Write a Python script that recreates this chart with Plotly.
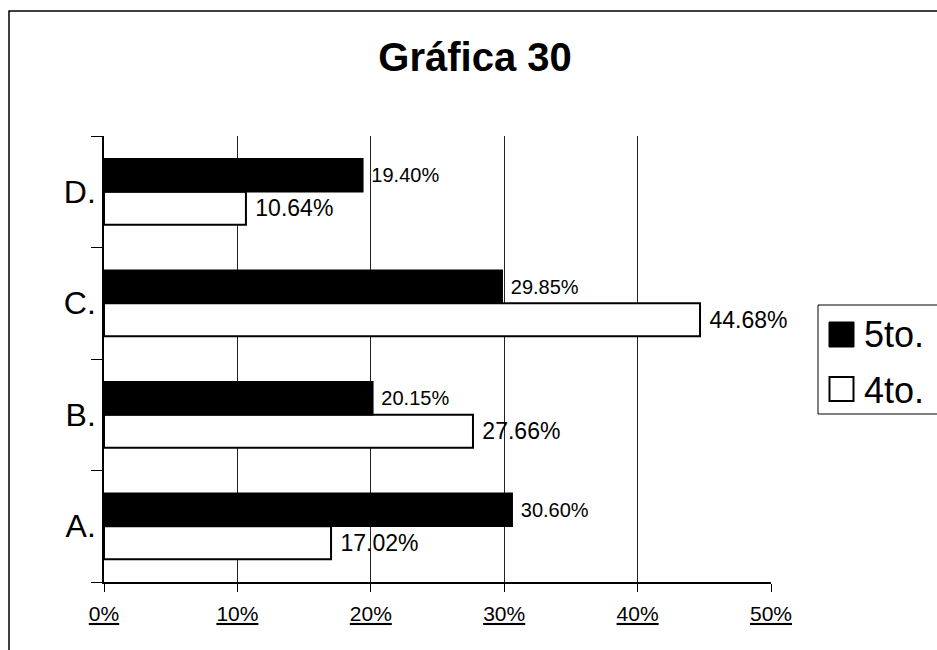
import plotly.graph_objects as go

categories = ["A.", "B.", "C.", "D."]
series_names = ["5to.", "4to."]
values_5to = [0.3060, 0.2015, 0.2985, 0.1940]
values_4to = [0.1702, 0.2766, 0.4468, 0.1064]
tick_vals = [0, 0.1, 0.2, 0.3, 0.4, 0.5]
tick_text = ["0%", "10%", "20%", "30%", "40%", "50%"]
grid_vals = [0.1, 0.2, 0.3, 0.4]
title_text = "Gráfica 30"

FONT = "Liberation Sans, Arial, sans-serif"

fig = go.Figure()

# 4to first -> drawn lower in each group
fig.add_trace(go.Bar(
    y=categories, x=values_4to, orientation="h", name=series_names[1],
    marker=dict(color="white", line=dict(color="black", width=2)),
    texttemplate="\u00a0%{x:.2%}", textposition="outside",
    textfont=dict(family=FONT, size=23, color="black"),
    constraintext="none", cliponaxis=False, showlegend=False,
))
fig.add_trace(go.Bar(
    y=categories, x=values_5to, orientation="h", name=series_names[0],
    marker=dict(color="black", line=dict(color="black", width=1.5)),
    texttemplate="\u00a0%{x:.2%}", textposition="outside",
    textfont=dict(family=FONT, size=20, color="black"),
    constraintext="none", cliponaxis=False, showlegend=False,
))

# helper invisible trace on overlay axis for gridlines 10%-40%
fig.add_trace(go.Scatter(x=[grid_vals[0]], y=[categories[0]], xaxis="x2",
                         mode="markers", marker=dict(opacity=0),
                         showlegend=False, hoverinfo="skip"))

fig.update_layout(
    width=937, height=650,
    margin=dict(l=104, r=166, t=136, b=68),
    paper_bgcolor="white", plot_bgcolor="white",
    barmode="group", bargap=0.41, bargroupgap=0,
    font=dict(family=FONT, color="black"),
    title=dict(text="<b>" + title_text + "</b>", x=0.507, xref="container",
               xanchor="center", y=1 - 57 / 650, yref="container", yanchor="middle",
               font=dict(family=FONT, size=40, color="black")),
    xaxis=dict(range=[0, 0.5], tickvals=tick_vals,
               ticktext=["<u>" + t + "</u>" for t in tick_text],
               showgrid=False, zeroline=False,
               showline=True, linecolor="black", linewidth=1.5,
               ticks="outside", ticklen=8, tickcolor="black", tickwidth=1,
               ticklabelstandoff=4,
               tickfont=dict(family=FONT, size=21, color="black")),
    xaxis2=dict(range=[0, 0.5], overlaying="x", tickvals=grid_vals,
                showgrid=True, gridcolor="#222", gridwidth=1,
                showticklabels=False, zeroline=False, showline=False,
                side="bottom", matches=None),
    yaxis=dict(categoryorder="array", categoryarray=categories,
               showgrid=False, zeroline=False,
               showline=True, linecolor="black", linewidth=1.5,
               ticks="outside", tickson="boundaries", ticklen=11,
               tickcolor="black", tickwidth=1,
               tickfont=dict(family=FONT, size=32, color="black")),
)

# paper-coordinate helpers (plot area: x 104..771, y 136..582 px)
def px_x(p):
    return (p - 104) / 667

def px_y(p):
    return (582 - p) / 446

shapes = [
    # outer border
    dict(type="rect", xref="paper", yref="paper",
         x0=px_x(9), x1=px_x(948), y0=px_y(662), y1=px_y(11),
         line=dict(color="black", width=1.5), fillcolor="rgba(0,0,0,0)", layer="below"),
    # legend box
    dict(type="rect", xref="paper", yref="paper",
         x0=px_x(818), x1=px_x(950), y0=px_y(414), y1=px_y(305),
         line=dict(color="black", width=1), fillcolor="white"),
    # legend swatches
    dict(type="rect", xref="paper", yref="paper",
         x0=px_x(829), x1=px_x(854), y0=px_y(347), y1=px_y(322),
         line=dict(color="black", width=1), fillcolor="black"),
    dict(type="rect", xref="paper", yref="paper",
         x0=px_x(829.5), x1=px_x(853.5), y0=px_y(401), y1=px_y(377),
         line=dict(color="black", width=2), fillcolor="white"),
]
fig.update_layout(shapes=shapes)

fig.add_annotation(x=px_x(862), y=px_y(334), xref="paper", yref="paper",
                   text=series_names[0], showarrow=False, xanchor="left", yanchor="middle",
                   font=dict(family=FONT, size=36, color="black"))
fig.add_annotation(x=px_x(862), y=px_y(390), xref="paper", yref="paper",
                   text=series_names[1], showarrow=False, xanchor="left", yanchor="middle",
                   font=dict(family=FONT, size=36, color="black"))

fig.write_html("out.html")
